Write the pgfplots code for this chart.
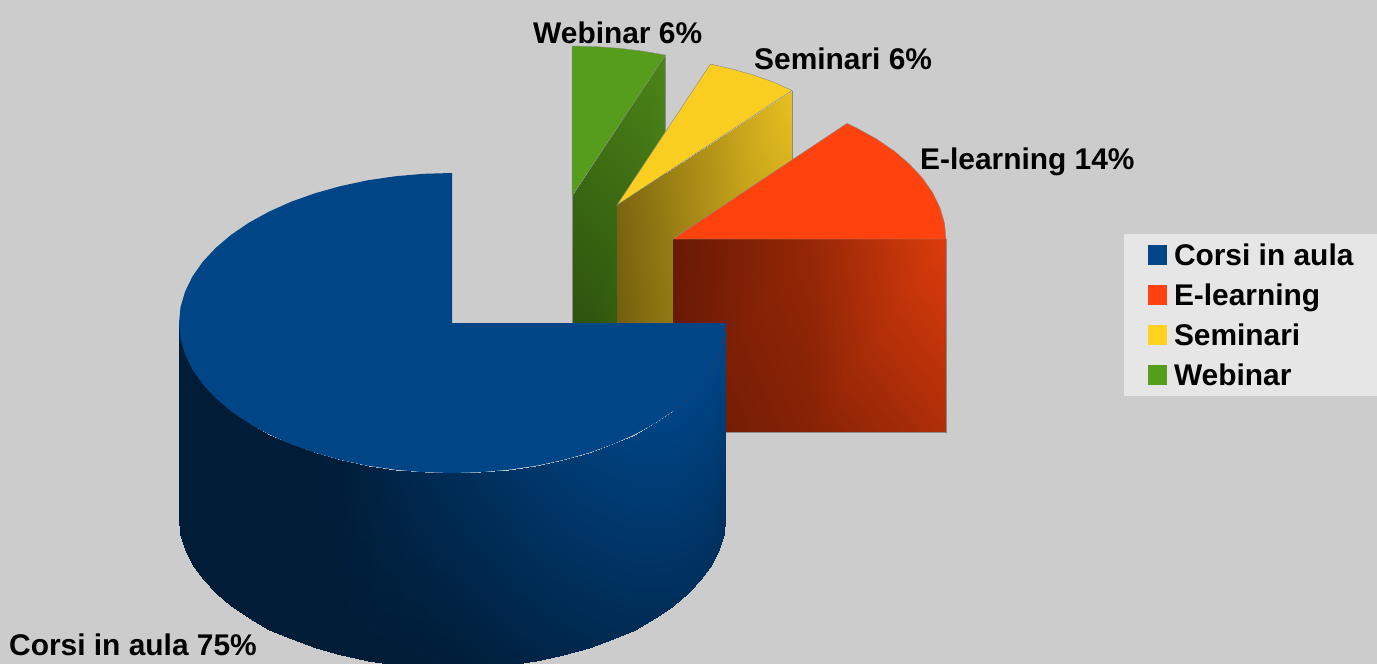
\documentclass[border=0pt]{standalone}
\usepackage{pgfplots}
\pgfplotsset{compat=1.18}
\usepackage{fontspec}
\setmainfont{Liberation Sans}
\definecolor{bgc}{HTML}{CCCCCC}
\definecolor{legc}{HTML}{E6E6E6}
\definecolor{cblue}{HTML}{004586}
\definecolor{corange}{HTML}{FF420E}
\definecolor{cyellow}{HTML}{F9CE20}
\definecolor{cyellowl}{HTML}{FFD320}
\definecolor{cgreen}{HTML}{579D1C}
\definecolor{edgec}{HTML}{8A8A8A}
\pgfplotsset{
  colormap={blueside}{rgb255=(0,28,54) rgb255=(0,69,134)},
  colormap={orangeside}{rgb255=(100,24,3) rgb255=(220,60,12)},
  colormap={yellowside}{rgb255=(110,90,14) rgb255=(232,192,32)},
  colormap={greenside}{rgb255=(40,74,12) rgb255=(76,133,24)},
  sidepatch/.style={patch, patch type=rectangle, shader=interp, point meta=explicit, point meta min=0, point meta max=1, forget plot},
  topface/.style={draw=edgec, line width=0.4pt, forget plot},
  edgeline/.style={draw=edgec, line width=0.4pt, mark=none, forget plot},
  swatch/.style={legend image code/.code={\fill[##1, draw=none] (0pt,-7.8pt) rectangle (19pt,12.2pt);}},
}
\begin{document}
\begin{tikzpicture}
\path[use as bounding box, fill=bgc] (0,0) rectangle (1377pt,664pt);
\begin{axis}[
  at={(0,0)}, anchor=south west, scale only axis,
  width=1377pt, height=664pt,
  xmin=0, xmax=1377, ymin=0, ymax=664, y dir=reverse,
  hide axis,
  legend style={at={(axis cs:1148,243)}, anchor=north west, fill=none, draw=none,
    font=\fontsize{29.9}{34}\selectfont\bfseries, inner sep=0pt, outer sep=0pt,
    nodes={text height=22pt, text depth=7pt, inner sep=0pt},
    row sep=11pt,
    /tikz/every odd column/.append style={column sep=7pt}},
  legend cell align=left,
]
% legend background
\addplot[fill=legc, draw=none, forget plot] coordinates {(1124,234) (1377,234) (1377,396) (1124,396)} --cycle;

% Webinar
\addplot[sidepatch, colormap name=greenside] coordinates {
 (572,196) [0.45] (665.4,55) [1] (665.4,250) [0.7] (572,388) [0]
};
\addplot[edgeline] coordinates {(665.4,55) (665.4,250)};
\addplot[edgeline] coordinates {(572,196) (572,388)};
\addplot[topface, fill=cgreen] coordinates {
 (572,196) (665.4,55) (642.7,51.1) (619.4,48.3) (595.8,46.6) (572,46)
} --cycle;

% Seminari
\addplot[sidepatch, colormap name=yellowside] coordinates {
 (617,205) [0.1] (792,90.5) [1] (792,283) [0.7] (617,398) [0]
};
\addplot[edgeline] coordinates {(792,90.5) (792,283)};
\addplot[topface, fill=cyellow] coordinates {
 (617,205) (792,90.5) (773.6,82.1) (753.5,75.1) (732.4,69.1) (710.4,64)
} --cycle;

% E-learning
\addplot[sidepatch, colormap name=orangeside] coordinates {
 (673,239) [0.03] (810,239) [0.42] (810,432.5) [0.28] (673,432.5) [0.05]
 (810,239) [0.42] (946,239) [1] (946,432.5) [0.62] (810,432.5) [0.28]
};
\addplot[edgeline] coordinates {(946,239) (946,432.5) (673,432.5)};
\addplot[topface, fill=corange] coordinates {
 (673,239) (946,239) (944.5,223.3) (940,207.8) (932.6,192.6) (922.4,178) (909.4,164)
 (893.9,150.8) (875.9,138.6) (855.7,127.5) (847,123.4)
} --cycle;

% Corsi in aula: side wall
\addplot[sidepatch, colormap name=blueside] coordinates {
 (179,323) [0] (180.5,338.7) [0] (180.5,533.7) [0] (179,518) [0]
 (180.5,338.7) [0] (185,354.2) [0] (185,549.2) [0] (180.5,533.7) [0]
 (185,354.2) [0] (192.4,369.4) [0] (192.4,564.4) [0] (185,549.2) [0]
 (192.4,369.4) [0] (202.6,384) [0] (202.6,579) [0] (192.4,564.4) [0]
 (202.6,384) [0] (215.6,398) [0] (215.6,593) [0] (202.6,579) [0]
 (215.6,398) [0] (231.1,411.2) [0] (231.1,606.2) [0] (215.6,593) [0]
 (231.1,411.2) [0] (249.1,423.4) [0] (249.1,618.4) [0] (231.1,606.2) [0]
 (249.1,423.4) [0] (269.3,434.5) [0] (269.3,629.5) [0] (249.1,618.4) [0]
 (269.3,434.5) [0] (291.5,444.4) [0] (291.5,639.4) [0] (269.3,629.5) [0]
 (291.5,444.4) [0] (315.5,452.9) [0.02] (315.5,647.9) [0] (291.5,639.4) [0]
 (315.5,452.9) [0.02] (341,460) [0.06] (341,655) [0] (315.5,647.9) [0]
 (341,460) [0.06] (367.6,465.7) [0.14] (367.6,660.7) [0] (341,655) [0]
 (367.6,465.7) [0.14] (395.2,469.7) [0.23] (395.2,664.7) [0] (367.6,660.7) [0]
 (395.2,469.7) [0.23] (423.5,472.2) [0.32] (423.5,667.2) [0.01] (395.2,664.7) [0]
 (423.5,472.2) [0.32] (452,473) [0.4] (452,668) [0.03] (423.5,667.2) [0.01]
 (452,473) [0.4] (480.5,472.2) [0.49] (480.5,667.2) [0.08] (452,668) [0.03]
 (480.5,472.2) [0.49] (508.8,469.7) [0.57] (508.8,664.7) [0.14] (480.5,667.2) [0.08]
 (508.8,469.7) [0.57] (536.4,465.7) [0.66] (536.4,660.7) [0.19] (508.8,664.7) [0.14]
 (536.4,465.7) [0.66] (563,460) [0.74] (563,655) [0.25] (536.4,660.7) [0.19]
 (563,460) [0.74] (588.5,452.9) [0.81] (588.5,647.9) [0.30] (563,655) [0.25]
 (588.5,452.9) [0.81] (612.5,444.4) [0.87] (612.5,639.4) [0.35] (588.5,647.9) [0.30]
 (612.5,444.4) [0.87] (634.7,434.5) [0.92] (634.7,629.5) [0.39] (612.5,639.4) [0.35]
 (634.7,434.5) [0.92] (654.9,423.4) [0.96] (654.9,618.4) [0.42] (634.7,629.5) [0.39]
 (654.9,423.4) [0.96] (672.9,411.2) [0.99] (672.9,606.2) [0.45] (654.9,618.4) [0.42]
 (672.9,411.2) [0.99] (688.4,398) [1] (688.4,593) [0.47] (672.9,606.2) [0.45]
 (688.4,398) [1] (701.4,384) [1] (701.4,579) [0.48] (688.4,593) [0.47]
 (701.4,384) [1] (711.6,369.4) [1] (711.6,564.4) [0.48] (701.4,579) [0.48]
 (711.6,369.4) [1] (719,354.2) [1] (719,549.2) [0.48] (711.6,564.4) [0.48]
 (719,354.2) [1] (723.5,338.7) [1] (723.5,533.7) [0.48] (719,549.2) [0.48]
 (723.5,338.7) [1] (725,323) [1] (725,518) [0.48] (723.5,533.7) [0.48]
};
% Corsi in aula: top face
\addplot[fill=cblue, draw=none, forget plot] coordinates {
 (452,323) (452,173) (423.5,173.8) (395.2,176.3) (367.6,180.3) (341,186) (315.5,193.1)
 (291.5,201.6) (269.3,211.5) (249.1,222.6) (231.1,234.8) (215.6,248) (202.6,262)
 (192.4,276.6) (185,291.8) (180.5,307.3) (179,323)
 (180.5,338.7) (185,354.2) (192.4,369.4) (202.6,384) (215.6,398) (231.1,411.2)
 (249.1,423.4) (269.3,434.5) (291.5,444.4) (315.5,452.9) (341,460) (367.6,465.7)
 (395.2,469.7) (423.5,472.2) (452,473)
 (480.5,472.2) (508.8,469.7) (536.4,465.7) (563,460) (588.5,452.9) (612.5,444.4)
 (634.7,434.5) (654.9,423.4) (672.9,411.2) (688.4,398) (701.4,384) (711.6,369.4)
 (719,354.2) (723.5,338.7) (725,323)
} --cycle;

% legend
\addlegendimage{swatch, fill=cblue}
\addlegendentry{Corsi in aula}
\addlegendimage{swatch, fill=corange}
\addlegendentry{E-learning}
\addlegendimage{swatch, fill=cyellowl}
\addlegendentry{Seminari}
\addlegendimage{swatch, fill=cgreen}
\addlegendentry{Webinar}

% data labels
\node[anchor=base west, inner sep=0pt, font=\fontsize{29.9}{34}\selectfont\bfseries] at (axis cs:533,43) {Webinar 6\%};
\node[anchor=base west, inner sep=0pt, font=\fontsize{29.9}{34}\selectfont\bfseries] at (axis cs:754,69) {Seminari 6\%};
\node[anchor=base west, inner sep=0pt, font=\fontsize{29.9}{34}\selectfont\bfseries] at (axis cs:920,169) {E-learning 14\%};
\node[anchor=base west, inner sep=0pt, font=\fontsize{29.9}{34}\selectfont\bfseries] at (axis cs:9,655) {Corsi in aula 75\%};
\end{axis}
\end{tikzpicture}
\end{document}
